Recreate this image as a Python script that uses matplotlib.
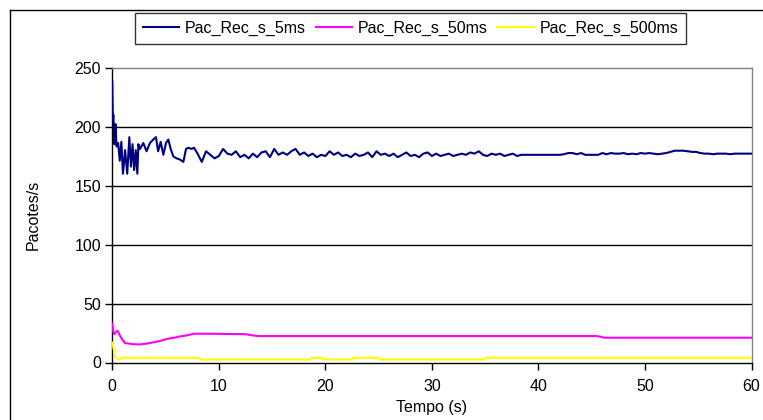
import matplotlib
matplotlib.use("Agg")
import matplotlib.pyplot as plt
from matplotlib.lines import Line2D

plt.rcParams['font.family'] = ['Liberation Sans', 'DejaVu Sans']

# ---- data ----
t_5ms = [0, 0.05, 0.1, 0.2, 0.3, 0.4, 0.55, 0.7, 0.85, 1.0, 1.2, 1.4, 1.6, 1.75,
         1.9, 2.05, 2.2, 2.35, 2.45, 2.6, 2.91, 3.22, 3.53, 3.85, 4.1, 4.3, 4.54,
         4.79, 5.04, 5.26, 5.48, 5.73, 6.04, 6.35, 6.67, 6.92, 7.14, 7.45, 7.67,
         8.0, 8.4, 8.8, 9.2, 9.6, 10.0, 10.4, 10.8, 11.2, 11.6, 12.0, 12.4, 12.8,
         13.2, 13.6, 14.0, 14.4, 14.8, 15.2, 15.6, 16.0,
         16.4, 16.8, 17.2, 17.6, 18.0, 18.4, 18.8, 19.2, 19.6, 20.0, 20.4, 20.8,
         21.2, 21.6, 22.0, 22.4, 22.8, 23.2, 23.6, 24.0, 24.4, 24.8, 25.2, 25.6,
         26.0, 26.4, 26.8, 27.2, 27.6, 28.0, 28.4, 28.8, 29.2, 29.6, 30.0,
         30.4, 30.8, 31.2, 31.6, 32.0, 32.4, 32.8, 33.2, 33.6, 34.0, 34.4, 34.8,
         35.2, 35.6, 36.0, 36.4, 36.8, 37.2, 37.6, 38.0, 38.4, 38.8, 39.2, 39.6, 40.0,
         40.4, 40.8, 41.2, 41.6, 42.0, 42.4, 42.8, 43.2, 43.6, 44.0, 44.4, 44.8,
         45.2, 45.6, 46.0, 46.4, 46.8, 47.2, 47.6, 48.0, 48.4, 48.8, 49.2, 49.6,
         50.0, 50.4, 50.8, 51.2, 51.6, 52.0, 52.4, 52.8, 53.2, 53.6, 54.0, 54.4,
         54.8, 55.2, 55.6, 56.0, 56.4, 56.8, 57.2, 57.6, 58.0, 58.4, 58.8, 59.2,
         59.6, 60.0]
v_5ms = [238, 205, 210, 185, 202, 183, 186, 171, 187, 160, 180, 160, 191, 166,
         185, 163, 180, 160, 185, 181, 186, 179, 186, 189, 191, 179, 187,
         176, 186, 189, 181, 174.6, 173, 172, 170, 181, 182, 181, 182,
         177, 170, 179, 176, 173, 175, 181, 177, 176, 179, 174, 176, 173,
         177, 174, 178, 179, 174, 181, 176, 178,
         176, 179, 181, 176, 178, 175, 177, 174, 176, 175, 179, 176,
         178, 175, 176, 174, 177, 175, 176, 178, 174, 179, 176, 177,
         175, 177, 174, 176, 178, 175, 176, 174, 177, 178, 175,
         177, 175, 176, 177, 175, 176, 177, 176, 178, 177, 179, 176,
         175, 177, 176, 177, 175, 176, 177, 175, 176, 176, 176, 176, 176,
         176, 176, 176, 176, 176, 176.5, 177.5, 177.5, 176.5, 177.5, 176, 176,
         176, 176, 177.5, 176.5, 177.5, 177, 177, 177.5, 176.5, 177, 176.5, 177.5,
         177, 177.5, 177, 176.5, 177, 177.5, 178.5, 179.5, 179.5, 179.5, 179, 178.5,
         178.5, 177.5, 177, 177, 176.5, 177, 177, 177, 176.5, 177, 177, 177,
         177, 177]

t_50ms = [0, 0.1, 0.2, 0.35, 0.5, 0.7, 0.9, 1.2, 1.6, 2.0, 2.6, 3.2, 4.0, 4.6,
          5.1, 5.7, 6.3, 7.0, 7.7, 9.0, 10.5, 12.5, 13.0, 13.7, 20.0, 30.0, 40.0,
          45.5, 45.9, 46.2, 50.0, 60.0]
v_50ms = [33, 26, 24, 26, 27, 23, 20, 16.4, 16, 15.5, 15.3, 16, 17.3, 18.5,
          20, 20.8, 22, 23, 24.4, 24.4, 24.2, 24.0, 23.2, 22.4, 22.4, 22.4, 22.4,
          22.4, 21.6, 21, 21, 21]

t_500ms = [0, 0.27, 0.5, 0.66, 0.85, 1.05, 1.2, 5.0, 8.2, 8.3, 18.6, 18.7, 19.7,
           19.8, 22.5, 22.6, 25.0, 25.1, 34.9, 35.0, 45.0, 60.0]
v_500ms = [17, 5, 3, 2.3, 3.5, 4.5, 4, 4, 4, 2.5, 2.5, 4, 4,
           2.5, 2.5, 4, 4, 2.5, 2.5, 4, 4, 4]

series_names = ["Pac_Rec_s_5ms", "Pac_Rec_s_50ms", "Pac_Rec_s_500ms"]
series_colors = ["#000080", "#FF00FF", "#FFFF00"]
x_ticks = [0, 10, 20, 30, 40, 50, 60]
y_ticks = [0, 50, 100, 150, 200, 250]

# ---- figure ----
fig = plt.figure(figsize=(7.63, 4.20), dpi=100)
ax = fig.add_axes([112.3 / 763, 1 - 362.5 / 420, (751.5 - 112.3) / 763, (362.5 - 67.5) / 420])

ax.plot(t_5ms, v_5ms, color=series_colors[0], lw=1.5, label=series_names[0], zorder=5)
ax.plot(t_50ms, v_50ms, color=series_colors[1], lw=1.5, label=series_names[1], zorder=4)
ax.plot(t_500ms, v_500ms, color=series_colors[2], lw=1.5, label=series_names[2], zorder=3)

ax.set_xlim(0, 60)
ax.set_ylim(0, 250)
ax.set_xticks(x_ticks)
ax.set_yticks(y_ticks)
for yv in y_ticks[1:-1]:
    ax.axhline(yv, color='black', lw=1.0, zorder=1)

for s in ['top', 'right']:
    ax.spines[s].set_color('#808080')
    ax.spines[s].set_linewidth(1.0)
for s in ['left', 'bottom']:
    ax.spines[s].set_color('black')
    ax.spines[s].set_linewidth(1.0)

fs = 11.5
ax.tick_params(direction='out', length=5, width=1, labelsize=fs, colors='black')
ax.tick_params(axis='x', pad=7)
ax.tick_params(axis='y', pad=3)

ax.set_xlabel("Tempo (s)", fontsize=fs, labelpad=4)
ax.set_ylabel("Pacotes/s", fontsize=fs, labelpad=24)

leg = fig.legend(loc='center', bbox_to_anchor=(410.5 / 763, 1 - 28.5 / 420), ncol=3,
                 fontsize=fs, frameon=True, fancybox=False, edgecolor='black',
                 handlelength=2.3, handletextpad=0.35, columnspacing=0.6,
                 borderpad=0.5, borderaxespad=0)
leg.get_frame().set_linewidth(1.0)

# outer chart border
fig.add_artist(Line2D([10 / 763, 10 / 763], [0, 1 - 10 / 420], transform=fig.transFigure,
                      color='black', lw=1.0))
fig.add_artist(Line2D([10 / 763, 1], [1 - 10 / 420, 1 - 10 / 420], transform=fig.transFigure,
                      color='black', lw=1.0))

fig.savefig("out.png", dpi=100)
